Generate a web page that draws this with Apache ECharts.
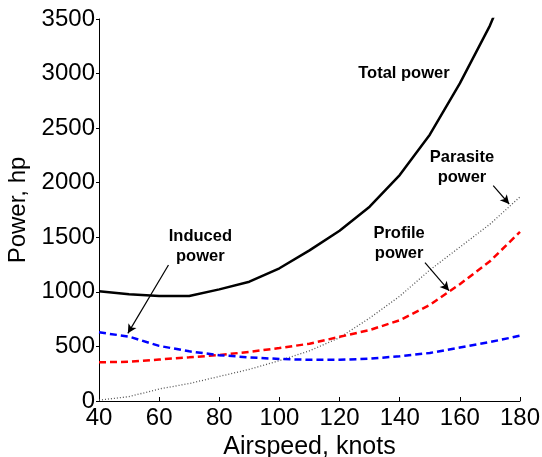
<!DOCTYPE html>
<html>
<head>
<meta charset="UTF-8">
<title>power_vs_airspeed</title>
<script src="https://cdn.jsdelivr.net/npm/echarts@6/dist/echarts.min.js"></script>
<style>
  html, body { margin: 0; padding: 0; background: #fff; }
  #main { width: 542px; height: 457px; }
</style>
</head>
<body>
<div id="main"></div>
<script>
// airspeed, knots
var airspeed = [40, 50, 60, 70, 80, 90, 100, 110, 120, 130, 140, 150, 160, 170, 180];
// power, hp
var totalPower    = [1005, 978, 962, 962, 1023, 1093, 1216, 1380, 1560, 1780, 2070, 2440, 2910, 3440, 4100];
var inducedPower  = [629, 590, 505, 455, 420, 400, 385, 377, 377, 388, 410, 440, 490, 540, 598];
var profilePower  = [354, 360, 380, 400, 421, 450, 485, 525, 588, 650, 740, 880, 1070, 1280, 1550];
var parasitePower = [8, 40, 110, 160, 225, 290, 370, 460, 580, 760, 960, 1200, 1410, 1620, 1870];

// annotation labels [x, y, text]
var notes = [
  [141.4, 3003, 'Total power'],
  [160.7, 2144, 'Parasite\npower'],
  [73.7, 1420, 'Induced\npower'],
  [139.8, 1445, 'Profile\npower']
];
// arrows [fromX, fromY, toX, toY]
var arrows = [
  [63.1, 1246, 49.6, 620],
  [148.4, 1267, 156.4, 1011],
  [171.1, 1973, 176.4, 1805]
];

function pairs(ys) {
  return airspeed.map(function (x, i) { return [x, ys[i]]; });
}

var font = '"Liberation Sans", Arial, Helvetica, sans-serif';
var myChart = echarts.init(document.getElementById('main'));

var option = {
  animation: false,
  textStyle: { fontFamily: font },
  grid: { left: 99, right: 22, top: 19, bottom: 56, containLabel: false, outerBoundsMode: 'none' },
  xAxis: {
    type: 'value',
    min: 40, max: 180, interval: 20,
    name: 'Airspeed, knots',
    nameLocation: 'middle',
    nameGap: 30,
    nameTextStyle: { fontSize: 25, color: '#000', fontFamily: font },
    axisLine: { lineStyle: { color: '#000', width: 1 } },
    axisTick: { inside: true, length: 4, lineStyle: { color: '#000' } },
    axisLabel: { fontSize: 24, color: '#000', margin: 5, fontFamily: font },
    splitLine: { show: false }
  },
  yAxis: {
    type: 'value',
    min: 0, max: 3500, interval: 500,
    name: 'Power, hp',
    nameLocation: 'middle',
    nameGap: 55,
    nameTextStyle: { fontSize: 24, color: '#000', fontFamily: font },
    axisLine: { show: true, lineStyle: { color: '#000', width: 1 } },
    axisTick: { show: true, length: 3, lineStyle: { color: '#000' } },
    axisLabel: {
      fontSize: 24, color: '#000', margin: 4, fontFamily: font,
      formatter: function (v) { return String(v); }
    },
    splitLine: { show: false }
  },
  series: [
    {
      name: 'Parasite', type: 'line', showSymbol: false, smooth: false,
      data: pairs(parasitePower),
      lineStyle: { color: '#555', width: 1.3, type: [1, 2] }
    },
    {
      name: 'Profile', type: 'line', showSymbol: false,
      data: pairs(profilePower),
      lineStyle: { color: '#ff0000', width: 2.5, type: [7, 4] }
    },
    {
      name: 'Induced', type: 'line', showSymbol: false,
      data: pairs(inducedPower),
      lineStyle: { color: '#0000ff', width: 2.5, type: [7, 4] }
    },
    {
      name: 'Total', type: 'line', showSymbol: false, clip: true,
      data: pairs(totalPower),
      lineStyle: { color: '#000', width: 2.5 },
      markPoint: {
        silent: true,
        symbol: 'circle',
        symbolSize: 1,
        itemStyle: { color: 'transparent' },
        label: {
          show: true, position: 'inside', color: '#000',
          fontSize: 16.5, fontWeight: 'bold', lineHeight: 20, fontFamily: font,
          formatter: function (p) { return p.name; }
        },
        data: notes.map(function (n) { return { name: n[2], coord: [n[0], n[1]] }; })
      },
      markLine: {
        silent: true,
        symbol: ['none', 'arrow'],
        symbolSize: [7, 9],
        label: { show: false },
        lineStyle: { color: '#000', width: 1.2, type: 'solid' },
        data: arrows.map(function (a) {
          return [{ coord: [a[0], a[1]] }, { coord: [a[2], a[3]] }];
        })
      }
    }
  ]
};
myChart.setOption(option);
</script>
</body>
</html>
